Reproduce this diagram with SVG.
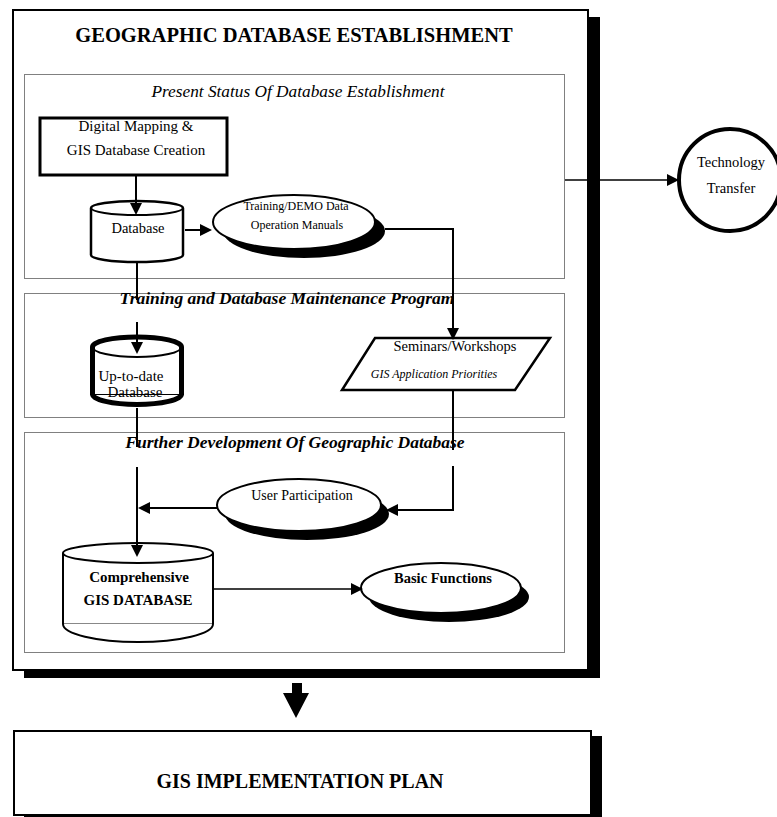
<svg xmlns="http://www.w3.org/2000/svg" width="777" height="817" viewBox="0 0 777 817">
<style>
text{font-family:"Liberation Serif","Times New Roman",serif;fill:#000;text-anchor:middle}
.b{font-weight:bold}
.i{font-style:italic}
.sec{fill:none;stroke:#000;stroke-width:1;stroke-dasharray:1 1}
.ln{fill:none;stroke:#000;stroke-width:2}
.thin{fill:none;stroke:#000;stroke-width:1.5}
.shadow{fill:#000;stroke:none}
.node{fill:#fff;stroke:#000}
</style>
<defs>
<marker id="ah" markerUnits="userSpaceOnUse" viewBox="0 0 12 12" refX="10" refY="6" markerWidth="12" markerHeight="12" orient="auto">
<path d="M0,0 L12,6 L0,12 Z" fill="#000"/>
</marker>
</defs>
<rect width="777" height="817" fill="#fff"/>

<g id="outer">
<rect class="shadow" x="24" y="17" width="576" height="661"/>
<rect class="node" x="13" y="10" width="575" height="660" stroke-width="2"/>
<text class="b" x="294" y="42" font-size="20.5">GEOGRAPHIC DATABASE ESTABLISHMENT</text>
</g>

<g id="section1">
<rect class="sec" x="24.5" y="74.5" width="540" height="204"/>
<text class="i" x="298" y="97" font-size="17.3">Present Status Of Database Establishment</text>
</g>
<g id="section2">
<rect class="sec" x="24.5" y="293.5" width="540" height="124"/>
<text class="b i" x="287" y="304" font-size="17.5">Training and Database Maintenance Program</text>
</g>
<g id="section3">
<rect class="sec" x="24.5" y="432.5" width="540" height="220"/>
<text class="b i" x="295" y="448" font-size="17.5">Further Development Of Geographic Database</text>
</g>

<g id="digital-mapping">
<rect class="node" x="40" y="118" width="187" height="57" stroke-width="3"/>
<text x="136" y="131" font-size="15">Digital Mapping &amp;</text>
<text x="136" y="155" font-size="15">GIS Database Creation</text>
</g>

<g id="database">
<path class="node" stroke-width="2.5" d="M91,208 A46,7 0 0 1 183,208 L183,255 A46,7 0 0 1 91,255 Z"/>
<path class="ln" stroke-width="2.5" d="M91,208 A46,7 0 0 0 183,208"/>
<text x="138" y="233" font-size="14.5">Database</text>
</g>

<g id="training-demo">
<ellipse class="shadow" cx="304" cy="231" rx="81" ry="27"/>
<ellipse class="node" cx="294" cy="222" rx="81" ry="27" stroke-width="2"/>
<text x="296" y="210" font-size="12">Training/DEMO Data</text>
<text x="297" y="229" font-size="12">Operation Manuals</text>
</g>

<g id="technology-transfer">
<circle class="node" cx="730" cy="180" r="51" stroke-width="4"/>
<text x="731" y="167" font-size="14.5">Technology</text>
<text x="731" y="193" font-size="14.5">Transfer</text>
</g>

<g id="up-to-date">
<path class="node" stroke-width="5" d="M92.5,347 A44.5,10 0 0 1 181.5,347 L181.5,394 A44.5,10.5 0 0 1 92.5,394 Z"/>
<path class="ln" stroke-width="5" d="M92.5,347 A44.5,10 0 0 0 181.5,347"/>
<text x="131" y="381" font-size="15">Up-to-date</text>
<text x="135" y="397" font-size="15">Database</text>
<line x1="90" y1="394.5" x2="184" y2="394.5" stroke="#000" stroke-width="1"/>
</g>

<g id="seminars">
<polygon class="node" stroke-width="2.5" points="375,338 550,338 515,390 342,390"/>
<text x="455" y="351" font-size="14.5">Seminars/Workshops</text>
<text class="i" x="434" y="378" font-size="12">GIS Application Priorities</text>
</g>

<g id="user-participation">
<ellipse class="shadow" cx="307" cy="514" rx="82" ry="26"/>
<ellipse class="node" cx="299" cy="505" rx="82" ry="26" stroke-width="2"/>
<text x="302" y="500" font-size="14">User Participation</text>
</g>

<g id="comprehensive">
<path class="node" stroke-width="2" d="M63,553 A75,10 0 0 1 213,553 L213,624 A75,18 0 0 1 63,624 Z"/>
<path class="ln" d="M63,553 A75,10 0 0 0 213,553"/>
<line x1="64" y1="623.5" x2="212" y2="623.5" stroke="#888" stroke-width="1"/>
<text class="b" x="139" y="582" font-size="15">Comprehensive</text>
<text class="b" x="138" y="605" font-size="15">GIS DATABASE</text>
</g>

<g id="basic-functions">
<ellipse class="shadow" cx="449" cy="597" rx="80" ry="25"/>
<ellipse class="node" cx="441" cy="588" rx="80" ry="25" stroke-width="2"/>
<text class="b" x="443" y="583" font-size="14.5">Basic Functions</text>
</g>

<g id="implementation-plan">
<rect class="shadow" x="24" y="736" width="578" height="90"/>
<rect class="node" x="14" y="731" width="577" height="84" stroke-width="2"/>
<text class="b" x="300" y="788" font-size="20">GIS IMPLEMENTATION PLAN</text>
</g>

<g id="connectors">
<line class="ln" x1="136" y1="176" x2="136" y2="213" marker-end="url(#ah)"/>
<line class="ln" x1="185" y1="230" x2="210" y2="230" marker-end="url(#ah)"/>
<polyline class="ln" points="385,229 453,229 453,338" marker-end="url(#ah)"/>
<line class="thin" x1="565" y1="180" x2="677" y2="180" marker-end="url(#ah)"/>
<line class="ln" x1="137" y1="262" x2="137" y2="300"/>
<line class="ln" x1="137" y1="322" x2="137" y2="352" marker-end="url(#ah)"/>
<line class="ln" x1="137" y1="408" x2="137" y2="447"/>
<line class="ln" x1="137" y1="467" x2="137" y2="555" marker-end="url(#ah)"/>
<line class="ln" x1="453" y1="391" x2="453" y2="450"/>
<polyline class="ln" points="453,466 453,510 388,510" marker-end="url(#ah)"/>
<line class="ln" x1="217" y1="508" x2="140" y2="508" marker-end="url(#ah)"/>
<line class="thin" x1="214" y1="589" x2="361" y2="589" marker-end="url(#ah)"/>
<polygon fill="#000" points="292,683 302,683 302,693 309,693 296,718 283,693 292,693"/>
</g>
</svg>
